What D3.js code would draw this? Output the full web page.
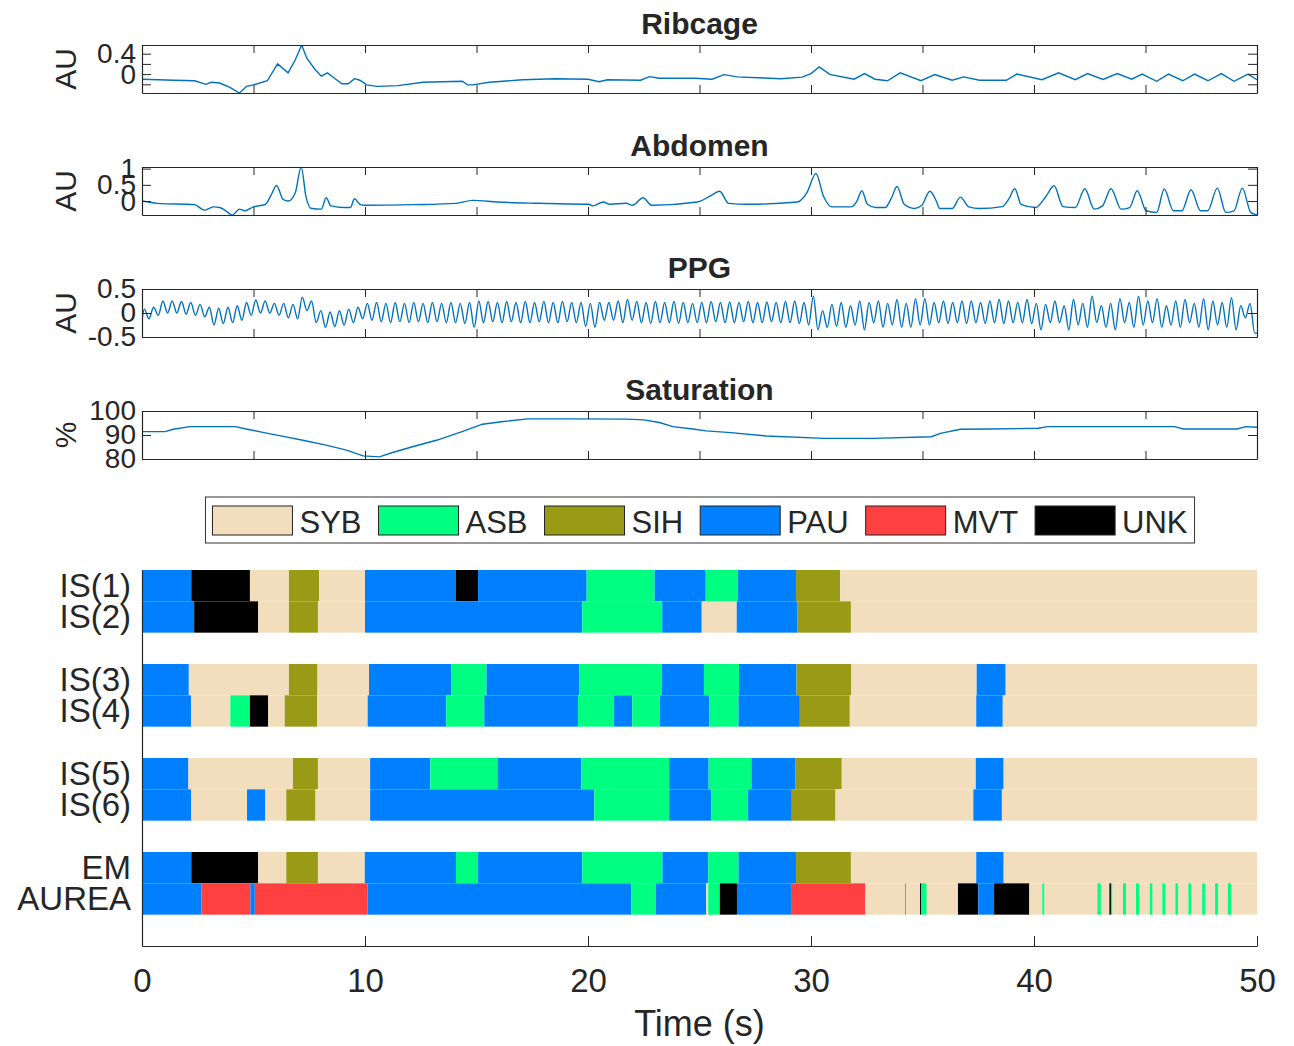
<!DOCTYPE html>
<html>
<head>
<meta charset="utf-8">
<script src="https://cdn.jsdelivr.net/npm/d3@7"></script>
<style>
  body { margin: 0; background: #fff; }
  text { font-family: "Liberation Sans", Arial, sans-serif; fill: #262626; }
</style>
</head>
<body>
<svg id="chart" width="1294" height="1046"></svg>
<script>
// ---- signals, [time (s), value] ----
var ribcage = [[0,-0.10],[1.43,-0.12],[2.36,-0.13],[2.87,-0.20],[3.1,-0.16],[3.48,-0.175],[3.94,-0.26],[4.37,-0.37],
  [4.69,-0.24],[5.0,-0.21],[5.62,-0.13],[6.08,0.20],[6.55,0.025],[6.87,0.275],[7.16,0.57],[7.39,0.31],[7.76,0.09],
  [8.04,-0.04],[8.32,0.025],[8.6,-0.07],[8.97,-0.19],[9.25,-0.19],[9.53,-0.09],[9.77,-0.12],[10.08,-0.21],[10.55,-0.24],
  [11.48,-0.225],[12.6,-0.16],[14.36,-0.14],[14.6,-0.21],[14.83,-0.21],[15.57,-0.16],[17.06,-0.11],[18.55,-0.09],
  [20.0,-0.10],[20.5,-0.15],[20.87,-0.11],[22.36,-0.12],[22.75,-0.05],[23.2,-0.08],[24.8,-0.08],[25.56,-0.10],
  [26.1,-0.01],[26.7,-0.055],[27.9,-0.075],[28.65,-0.09],[29.6,-0.06],[30.0,0.01],[30.37,0.14],[30.84,-0.005],
  [31.93,-0.10],[32.4,0.01],[32.87,-0.10],[33.43,-0.13],[34.0,0.025],[34.93,-0.13],[35.55,-0.01],[36.33,-0.12],
  [36.85,-0.055],[37.55,-0.12],[38.76,-0.12],[39.23,0],[40.36,-0.11],[41.1,0.025],[41.85,-0.11],[42.4,0.01],
  [43.1,-0.105],[43.73,0.01],[44.38,-0.10],[44.85,0],[45.5,-0.14],[46.03,0],[46.67,-0.13],[47.2,0],[47.8,-0.13],
  [48.4,0.01],[48.97,-0.14],[49.6,0],[50,-0.11]];

var abdomen = [[0,0.0],[0.69,-0.07],[2.36,-0.11],[2.79,-0.28],[3.2,-0.18],[3.48,-0.20],[3.76,-0.30],[4.04,-0.43],
  [4.37,-0.25],[4.6,-0.30],[5.0,-0.18],[5.53,-0.10],[5.8,0.20],[6.03,0.48],[6.33,0.05],[6.55,0.0],[6.87,0.25],
  [7.14,1.05],[7.35,0.15],[7.57,-0.22],[8.04,-0.25],[8.26,0.10],[8.47,-0.15],[9.06,-0.20],[9.34,-0.20],[9.53,0.07],
  [9.77,-0.10],[10.0,-0.13],[12.22,-0.11],[14.08,-0.07],[14.83,0.02],[15.94,-0.03],[17.8,-0.07],[20.04,-0.10],
  [20.22,-0.15],[20.69,-0.03],[20.97,-0.10],[21.71,-0.07],[22.0,-0.13],[22.47,0.10],[22.85,-0.13],[24.9,-0.03],
  [25.47,0.15],[25.9,0.30],[26.31,-0.07],[27.15,-0.10],[29.4,-0.03],[29.81,0.25],[30.22,0.85],[30.56,0.15],
  [30.94,-0.18],[31.78,-0.18],[32.06,0.0],[32.28,0.32],[32.53,-0.10],[32.9,-0.20],[33.33,-0.20],[33.61,0.10],
  [33.86,0.45],[34.18,-0.10],[34.64,-0.23],[34.97,-0.13],[35.33,0.30],[35.62,0.0],[35.77,-0.23],[36.33,-0.23],
  [36.7,0.12],[37.08,-0.18],[37.55,-0.23],[38.58,-0.17],[38.86,0.05],[39.14,0.38],[39.42,-0.10],[40.07,-0.20],
  [40.54,0.15],[40.9,0.47],[41.3,-0.17],[41.85,-0.20],[42.28,0.38],[42.7,-0.25],[43.07,-0.15],[43.45,0.38],
  [43.91,-0.25],[44.29,-0.20],[44.63,0.32],[45.03,-0.30],[45.5,-0.35],[45.84,0.37],[46.25,-0.30],[46.63,-0.30],
  [47.04,0.35],[47.47,-0.30],[47.79,-0.30],[48.22,0.40],[48.6,-0.35],[48.97,-0.30],[49.34,0.40],[49.72,-0.35],[50,-0.43]];

// PPG: one peak and one trough per beat, 120 beats evenly over 50 s
var ppgStart = -0.15;
var ppgPeaks = [
  0.08,0.12,0.25,0.25,0.24,0.22,0.18,0.12,0.10,0.12,0.15,0.22,
  0.27,0.25,0.20,0.20,0.18,0.33,0.25,0.05,0.02,0.05,0.08,0.12,
  0.20,0.22,0.20,0.22,0.20,0.22,0.20,0.22,0.20,0.22,0.20,0.22,
  0.25,0.24,0.22,0.24,0.22,0.24,0.22,0.24,0.22,0.24,0.22,0.22,
  0.20,0.22,0.22,0.25,0.28,0.24,0.22,0.24,0.22,0.24,0.22,0.20,
  0.22,0.24,0.22,0.23,0.22,0.24,0.22,0.23,0.22,0.24,0.25,0.22,
  0.35,0.05,0.18,0.22,0.15,0.25,0.22,0.25,0.20,0.28,0.20,0.30,
  0.30,0.22,0.25,0.22,0.25,0.25,0.22,0.25,0.28,0.25,0.22,0.28,
  0.20,0.18,0.25,0.15,0.28,0.20,0.35,0.15,0.20,0.30,0.22,0.35,
  0.25,0.30,0.15,0.25,0.28,0.20,0.30,0.25,0.22,0.32,0.15,0.20];
var ppgTroughs = [
  -0.12,-0.05,0.00,0.00,-0.02,-0.05,-0.08,-0.25,-0.22,-0.20,-0.15,-0.05,
  0.00,0.00,-0.05,-0.10,-0.12,0.05,-0.20,-0.30,-0.28,-0.25,-0.20,-0.12,
  -0.15,-0.18,-0.20,-0.18,-0.20,-0.18,-0.20,-0.18,-0.20,-0.20,-0.22,-0.30,
  -0.20,-0.18,-0.20,-0.18,-0.20,-0.20,-0.18,-0.20,-0.20,-0.18,-0.20,-0.28,
  -0.30,-0.15,-0.15,-0.20,-0.15,-0.20,-0.22,-0.20,-0.20,-0.22,-0.20,-0.20,
  -0.20,-0.18,-0.20,-0.20,-0.18,-0.20,-0.20,-0.18,-0.20,-0.20,-0.22,-0.25,
  -0.35,-0.30,-0.28,-0.30,-0.25,-0.35,-0.20,-0.30,-0.25,-0.30,-0.30,-0.25,
  -0.25,-0.20,-0.22,-0.20,-0.22,-0.20,-0.22,-0.20,-0.22,-0.20,-0.20,-0.22,
  -0.35,-0.20,-0.20,-0.35,-0.25,-0.30,-0.20,-0.30,-0.35,-0.20,-0.30,-0.25,
  -0.20,-0.30,-0.25,-0.30,-0.20,-0.30,-0.35,-0.25,-0.30,-0.35,-0.10,-0.42];

var saturation = [[0,91.4],[1.04,91.4],[1.4,92.4],[2.14,93.5],[4.18,93.5],[4.73,92.4],[5.47,91.0],[6.4,89.3],
  [7.32,87.6],[8.25,85.8],[9.17,83.7],[9.91,81.3],[10.65,80.9],[11.2,82.6],[12.13,85.1],[13.24,87.9],[14.35,91.4],
  [15.27,94.5],[16.2,95.6],[17.3,96.7],[19.5,96.7],[21.75,96.6],[22.5,96.3],[23.2,95.2],[23.8,93.5],[24.7,92.5],
  [25.3,91.7],[26.4,91.0],[28.0,89.6],[30.6,88.6],[32.8,88.6],[35.4,89.3],[35.8,90.7],[36.7,92.4],[38.0,92.5],
  [40.2,92.8],[40.6,93.5],[43.6,93.5],[46.3,93.5],[46.7,92.5],[49.1,92.5],[49.5,93.5],[50,93.2]];

// ---- state annotations, [start (s), end (s), state] ----
var states = ['SYB', 'ASB', 'SIH', 'PAU', 'MVT', 'UNK'];
var stateColors = ['#F2DEBD', '#00FF80', '#999A16', '#0080FF', '#FF4040', '#000000'];

var IS1 = [[0,2.21,'PAU'],[2.21,4.84,'UNK'],[4.84,6.59,'SYB'],[6.59,7.94,'SIH'],[7.94,10.0,'SYB'],[10.0,14.08,'PAU'],
  [14.08,15.07,'UNK'],[15.07,19.94,'PAU'],[19.94,22.99,'ASB'],[22.99,25.28,'PAU'],[25.28,26.72,'ASB'],[26.72,29.33,'PAU'],
  [29.33,31.31,'SIH'],[31.31,50,'SYB']];
var IS2 = [[0,2.34,'PAU'],[2.34,5.21,'UNK'],[5.21,6.59,'SYB'],[6.59,7.89,'SIH'],[7.89,10.0,'SYB'],[10.0,19.74,'PAU'],
  [19.74,23.33,'ASB'],[23.33,25.1,'PAU'],[25.1,26.67,'SYB'],[26.67,29.4,'PAU'],[29.4,31.79,'SIH'],[31.79,50,'SYB']];
var IS3 = [[0,2.1,'PAU'],[2.1,6.59,'SYB'],[6.59,7.87,'SIH'],[7.87,10.18,'SYB'],[10.18,13.86,'PAU'],[13.86,15.45,'ASB'],
  [15.45,19.62,'PAU'],[19.62,23.32,'ASB'],[23.32,25.2,'PAU'],[25.2,26.77,'ASB'],[26.77,29.35,'PAU'],[29.35,31.81,'SIH'],
  [31.81,37.43,'SYB'],[37.43,38.73,'PAU'],[38.73,50,'SYB']];
var IS4 = [[0,2.2,'PAU'],[2.2,3.96,'SYB'],[3.96,4.84,'ASB'],[4.84,5.66,'UNK'],[5.66,6.4,'SYB'],[6.4,7.85,'SIH'],
  [7.85,10.12,'SYB'],[10.12,13.64,'PAU'],[13.64,15.35,'ASB'],[15.35,19.55,'PAU'],[19.55,21.17,'ASB'],[21.17,21.99,'PAU'],
  [21.99,23.23,'ASB'],[23.23,25.43,'PAU'],[25.43,26.75,'ASB'],[26.75,29.5,'PAU'],[29.5,31.74,'SIH'],[31.74,37.41,'SYB'],
  [37.41,38.6,'PAU'],[38.6,50,'SYB']];
var IS5 = [[0,2.08,'PAU'],[2.08,6.77,'SYB'],[6.77,7.89,'SIH'],[7.89,10.23,'SYB'],[10.23,12.93,'PAU'],[12.93,15.94,'ASB'],
  [15.94,19.7,'PAU'],[19.7,23.64,'ASB'],[23.64,25.41,'PAU'],[25.41,27.33,'ASB'],[27.33,29.29,'PAU'],[29.29,31.38,'SIH'],
  [31.38,37.39,'SYB'],[37.39,38.64,'PAU'],[38.64,50,'SYB']];
var IS6 = [[0,2.21,'PAU'],[2.21,4.71,'SYB'],[4.71,5.53,'PAU'],[5.53,6.47,'SYB'],[6.47,7.78,'SIH'],[7.78,10.23,'SYB'],
  [10.23,20.28,'PAU'],[20.28,23.64,'ASB'],[23.64,25.52,'PAU'],[25.52,27.18,'ASB'],[27.18,29.14,'PAU'],[29.14,31.1,'SIH'],
  [31.1,37.28,'SYB'],[37.28,38.56,'PAU'],[38.56,50,'SYB']];
var EM = [[0,2.21,'PAU'],[2.21,5.21,'UNK'],[5.21,6.47,'SYB'],[6.47,7.89,'SIH'],[7.89,9.99,'SYB'],[9.99,14.08,'PAU'],
  [14.08,15.07,'ASB'],[15.07,19.74,'PAU'],[19.74,23.34,'ASB'],[23.34,25.39,'PAU'],[25.39,26.75,'ASB'],[26.75,29.33,'PAU'],
  [29.33,31.79,'SIH'],[31.79,37.41,'SYB'],[37.41,38.64,'PAU'],[38.64,50,'SYB']];
var AUREA = [[0,2.66,'PAU'],[2.66,4.86,'MVT'],[4.86,5.06,'PAU'],[5.06,10.12,'MVT'],[10.12,21.95,'PAU'],[21.95,23.04,'ASB'],
  [23.04,25.3,'PAU'],[25.3,25.39,'SYB'],[25.39,25.91,'ASB'],[25.91,26.68,'UNK'],[26.68,29.14,'PAU'],[29.14,32.44,'MVT'],
  [32.44,34.22,'SYB'],[34.22,34.27,'SIH'],[34.27,34.89,'SYB'],[34.89,34.95,'UNK'],[34.95,35.19,'ASB'],[35.19,36.59,'SYB'],
  [36.59,37.5,'UNK'],[37.5,38.21,'PAU'],[38.21,39.79,'UNK'],[39.79,40.37,'SYB'],[40.37,40.47,'ASB'],[40.47,42.84,'SYB'],
  [42.84,43.0,'ASB'],[43.0,43.38,'SYB'],[43.38,43.45,'UNK'],[43.45,43.52,'ASB'],[43.52,43.99,'SYB'],[43.99,44.14,'ASB'],
  [44.14,44.57,'SYB'],[44.57,44.72,'ASB'],[44.72,45.19,'SYB'],[45.19,45.32,'ASB'],[45.32,45.75,'SYB'],[45.75,45.9,'ASB'],
  [45.9,46.34,'SYB'],[46.34,46.47,'ASB'],[46.47,46.92,'SYB'],[46.92,47.05,'ASB'],[47.05,47.54,'SYB'],[47.54,47.67,'ASB'],
  [47.67,48.12,'SYB'],[48.12,48.27,'ASB'],[48.27,48.69,'SYB'],[48.69,48.84,'ASB'],[48.84,50,'SYB']];

var svg = d3.select('#chart');
var axisColor = '#262626';
var lineColor = '#0072BD';
var x = d3.scaleLinear().domain([0, 50]).range([142, 1257]);
var colour = d3.scaleOrdinal().domain(states).range(stateColors);

// build PPG points from the beat lists
var T = 50 / ppgPeaks.length;
var ppg = [[0, ppgStart]];
ppgPeaks.forEach(function (p, i) {
  ppg.push([(i + 0.25) * T, p]);
  ppg.push([(i + 0.75) * T, ppgTroughs[i]]);
});
ppg.push([50, ppgTroughs[ppgTroughs.length - 1]]);

var panels = [
  { title: 'Ribcage', data: ribcage, top: 45, dom: [-0.37, 0.57], ticks: [-0.2, 0, 0.2, 0.4], shown: [0, 0.4], ylab: 'AU', curve: d3.curveLinear },
  { title: 'Abdomen', data: abdomen, top: 167, dom: [-0.43, 1.05], ticks: [0, 0.5, 1], shown: [0, 0.5, 1], ylab: 'AU', curve: d3.curveMonotoneX },
  { title: 'PPG', data: ppg, top: 289, dom: [-0.5, 0.5], ticks: [-0.5, 0, 0.5], shown: [-0.5, 0, 0.5], ylab: 'AU', curve: d3.curveMonotoneX },
  { title: 'Saturation', data: saturation, top: 411, dom: [80, 100], ticks: [80, 90, 100], shown: [80, 90, 100], ylab: '%', curve: d3.curveLinear }
];
var panelH = 48;

function styleAxis(sel, size) {
  sel.attr('font-family', null).attr('font-size', null);
  sel.selectAll('path, line').attr('stroke', axisColor);
  sel.select('.domain').attr('stroke-width', 1.2);
  sel.selectAll('text').style('font-size', size + 'px').attr('fill', axisColor);
}

panels.forEach(function (p, k) {
  var g = svg.append('g');
  var y = d3.scaleLinear().domain(p.dom).range([p.top + panelH, p.top]);

  g.append('clipPath').attr('id', 'clip' + k)
    .append('rect').attr('x', x(0)).attr('y', p.top).attr('width', x(50) - x(0)).attr('height', panelH);

  g.append('path').datum(p.data)
    .attr('clip-path', 'url(#clip' + k + ')')
    .attr('fill', 'none').attr('stroke', lineColor).attr('stroke-width', 1.4)
    .attr('d', d3.line().x(function (d) { return x(d[0]); }).y(function (d) { return y(d[1]); }).curve(p.curve));

  var xt = d3.range(0, 51, 5);
  g.append('g').attr('transform', 'translate(0,' + (p.top + panelH) + ')')
    .call(d3.axisBottom(x).tickValues(xt).tickSize(-8).tickSizeOuter(0).tickFormat(''))
    .call(styleAxis, 28);
  g.append('g').attr('transform', 'translate(0,' + p.top + ')')
    .call(d3.axisTop(x).tickValues(xt).tickSize(-8).tickSizeOuter(0).tickFormat(''))
    .call(styleAxis, 28);
  g.append('g').attr('transform', 'translate(' + x(0) + ',0)')
    .call(d3.axisLeft(y).tickValues(p.ticks).tickSize(-9).tickSizeOuter(0).tickPadding(6)
      .tickFormat(function (d) { return p.shown.indexOf(d) >= 0 ? String(d) : ''; }))
    .call(styleAxis, 28);
  g.append('g').attr('transform', 'translate(' + x(50) + ',0)')
    .call(d3.axisRight(y).tickValues(p.ticks).tickSize(-9).tickSizeOuter(0).tickFormat(''))
    .call(styleAxis, 28);

  g.append('text').attr('x', (x(0) + x(50)) / 2).attr('y', p.top - 11)
    .attr('text-anchor', 'middle').style('font-size', '30px').style('font-weight', 'bold').attr('fill', '#000')
    .text(p.title);
  g.append('text').attr('transform', 'translate(76,' + (p.top + panelH / 2) + ') rotate(-90)')
    .attr('text-anchor', 'middle').style('font-size', '30px')
    .text(p.ylab);
});

// ---- legend ----
var leg = svg.append('g');
var lx = 0;
states.forEach(function (s, i) {
  leg.append('rect').attr('x', lx).attr('y', 9).attr('width', 80).attr('height', 29)
    .attr('fill', colour(s)).attr('stroke', '#222').attr('stroke-width', 1);
  var t = leg.append('text').attr('x', lx + 87).attr('y', 36).style('font-size', '31px').attr('fill', '#000').text(s);
  lx = lx + 87 + t.node().getComputedTextLength() + (i < states.length - 1 ? 17 : 7);
});
leg.insert('rect', ':first-child').attr('x', -7).attr('y', 0).attr('width', lx + 7).attr('height', 46)
  .attr('fill', '#fff').attr('stroke', '#333').attr('stroke-width', 1);
leg.attr('transform', 'translate(' + (700 - lx / 2 + 3.5) + ',497)');

// ---- state bars ----
var rows = [
  { name: 'IS(1)', pos: 0, segs: IS1 }, { name: 'IS(2)', pos: 1, segs: IS2 },
  { name: 'IS(3)', pos: 3, segs: IS3 }, { name: 'IS(4)', pos: 4, segs: IS4 },
  { name: 'IS(5)', pos: 6, segs: IS5 }, { name: 'IS(6)', pos: 7, segs: IS6 },
  { name: 'EM', pos: 9, segs: EM }, { name: 'AUREA', pos: 10, segs: AUREA }
];
var rowY = d3.scaleLinear().domain([0, 12]).range([570, 946]);

var bars = svg.append('g');
rows.forEach(function (r) {
  bars.selectAll(null).data(r.segs).enter().append('rect')
    .attr('x', function (d) { return x(d[0]); })
    .attr('width', function (d) { return x(d[1]) - x(d[0]); })
    .attr('y', rowY(r.pos))
    .attr('height', rowY(r.pos + 1) - rowY(r.pos))
    .attr('fill', function (d) { return colour(d[2]); });
});

svg.append('g').attr('transform', 'translate(' + x(0) + ',0)')
  .call(d3.axisLeft(rowY).tickValues(rows.map(function (r) { return r.pos + 0.5; }))
    .tickFormat(function (d, i) { return rows[i].name; }).tickSize(0).tickSizeOuter(0).tickPadding(11))
  .call(styleAxis, 33);

svg.append('g').attr('transform', 'translate(0,' + rowY(12) + ')')
  .call(d3.axisBottom(x).tickValues(d3.range(0, 51, 10)).tickSize(-10).tickSizeOuter(0).tickPadding(23))
  .call(styleAxis, 33);

svg.append('text').attr('x', (x(0) + x(50)) / 2).attr('y', 1036)
  .attr('text-anchor', 'middle').style('font-size', '36px')
  .text('Time (s)');
</script>
</body>
</html>
